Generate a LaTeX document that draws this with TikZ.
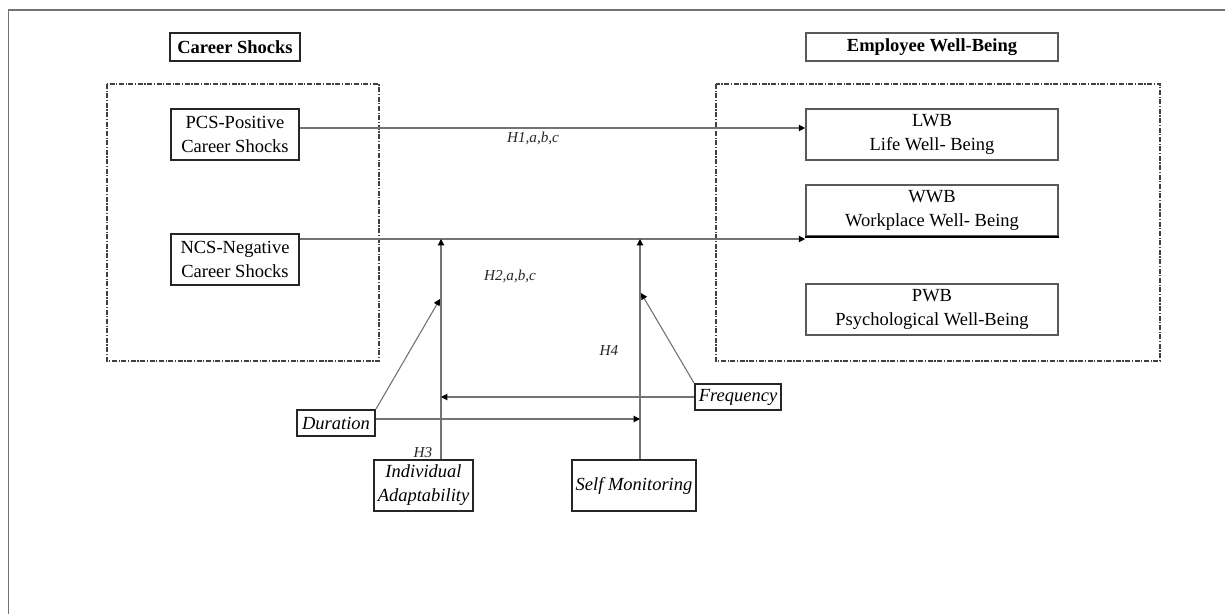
\documentclass[tikz,border=0pt]{standalone}
\usepackage{fontspec}
\setmainfont{Liberation Serif}
\usetikzlibrary{arrows.meta}
\tikzset{
  box/.style={draw=black!85, line width=1pt, align=center, inner sep=0pt, font=\fontsize{9.25}{12}\selectfont},
  wbbox/.style={box, draw=black!65, line width=0.8pt},
  modbox/.style={box, font=\fontsize{9.25}{12}\selectfont\itshape},
  region/.style={draw=black!75, line width=0.8pt, dash pattern=on 2.5pt off 0.8pt on 0.6pt off 0.8pt},
  link/.style={draw=black!55, line width=0.55pt, -{Triangle[length=3.2pt,width=3.2pt,color=black]}},
  hyp/.style={font=\fontsize{7.6}{9}\selectfont\itshape, inner sep=0pt, text=black!85}
}
\begin{document}
\begin{tikzpicture}[x=0.5pt,y=-0.5pt]
\useasboundingbox (0,0) rectangle (1225,614);
% outer frame and the two groups
\draw [black!55, line width=0.8pt] (8.5,640) -- (8.5,10) -- (1240,10);
\draw [region] (107,84) rectangle (379,361);
\draw [region] (716,84) rectangle (1160,361);
% headings
\node [box, minimum width=65pt, minimum height=14pt, font=\fontsize{9.25}{12}\selectfont\bfseries] (shocks) at (235,47) {Career Shocks};
\node [wbbox, minimum width=126pt, minimum height=14pt, font=\fontsize{9.25}{12}\selectfont\bfseries] (wellbeing) at (932,47) {Employee Well-Being};
% career shocks
\node [box, minimum width=64pt, minimum height=25.5pt] (pcs) at (235,134.5) {PCS-Positive\\Career Shocks};
\node [box, minimum width=64pt, minimum height=25.5pt] (ncs) at (235,259.5) {NCS-Negative\\Career Shocks};
% well-being outcomes
\node [wbbox, minimum width=126pt, minimum height=25.5pt] (lwb) at (932,134.5) {LWB\\Life Well- Being};
\node [wbbox, minimum width=126pt, minimum height=25.5pt] (wwb) at (932,210.5) {WWB\\Workplace Well- Being};
\node [wbbox, minimum width=126pt, minimum height=25.5pt] (pwb) at (932,309.5) {PWB\\Psychological Well-Being};
\draw [black, line width=1pt] (wwb.south west) -- (wwb.south east);
% moderators
\node [modbox, minimum width=39pt, minimum height=13pt] (duration) at (336,423) {Duration};
\node [modbox, minimum width=43pt, minimum height=13pt] (frequency) at (738,397) {Frequency};
\node [modbox, minimum width=49.5pt, minimum height=25.5pt] (adapt) at (423.5,485.5) {Individual\\Adaptability};
\node [modbox, minimum width=62pt, minimum height=25.5pt] (selfmon) at (634,485.5) {Self Monitoring};
% hypothesis labels
\node [hyp] (h1) at (533,138) {H1,a,b,c};
\node [hyp] (h2) at (510,276) {H2,a,b,c};
\node [hyp] (h3) at (423,453) {H3};
\node [hyp] (h4) at (609,350) {H4};
% helper points
\coordinate (ncsout) at ([yshift=-3pt]ncs.north east);
\coordinate (durout) at ([yshift=2pt]duration.east);
\coordinate (adtop) at ([xshift=8.75pt]adapt.north);
\coordinate (smtop) at ([xshift=3pt]selfmon.north);
\coordinate (admid) at (440,299);
\coordinate (smmid) at (641,293);
% main effects
\draw [link] ([yshift=3.25pt]pcs.east) -- ([yshift=3.25pt]lwb.west);
\draw [link] (ncsout) -- (ncsout -| wwb.west);
% moderating effects
\draw [link] (adtop) -- (adtop |- ncsout);
\draw [link] (smtop) -- (smtop |- ncsout);
\draw [link] (frequency.west) -- (adtop |- frequency.west);
\draw [link] (durout) -- (smtop |- durout);
\draw [link] (duration.north east) -- (admid);
\draw [link] (frequency.north west) -- (smmid);
\end{tikzpicture}
\end{document}
